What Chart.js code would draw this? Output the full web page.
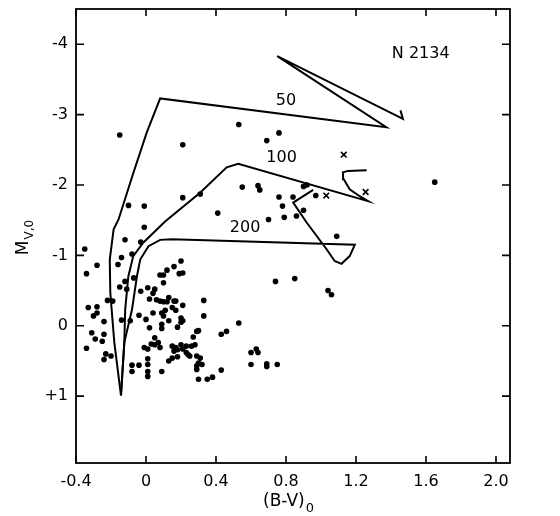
<!DOCTYPE html>
<html>
<head>
<meta charset="utf-8">
<script src="https://cdn.jsdelivr.net/npm/chart.js@4/dist/chart.umd.min.js"></script>
<style>
  body { margin: 0; background: #fff; }
  #wrap { width: 560px; height: 516px; }
</style>
</head>
<body>
<div id="wrap"><canvas id="cmd" width="560" height="516"></canvas></div>
<script>
// axis ticks
const xTicks = [-0.4, 0, 0.4, 0.8, 1.2, 1.6, 2.0];
const yTicks = [-4, -3, -2, -1, 0, 1];

// isochrones [ (B-V)0, Mv0 ]
const iso50 = [
  [-0.143, 0.99], [-0.181, 0.24], [-0.204, -0.47], [-0.207, -0.94], [-0.185, -1.37],
  [-0.157, -1.51], [-0.071, -2.18], [0.005, -2.75], [0.081, -3.23], [1.373, -2.82],
  [0.750, -3.83], [1.468, -2.94], [1.454, -3.06]
];
const iso100 = [
  [-0.143, 0.99], [-0.124, 0.24], [-0.119, -0.23], [-0.101, -0.70], [-0.073, -0.99],
  [-0.016, -1.18], [0.109, -1.48], [0.309, -1.89], [0.461, -2.25], [0.527, -2.30],
  [1.269, -1.77], [1.221, -1.84], [1.164, -1.94], [1.130, -2.08], [1.126, -2.18],
  [1.155, -2.20], [1.261, -2.21]
];
const iso200 = [
  [-0.143, 0.99], [-0.124, 0.24], [-0.080, -0.23], [-0.052, -0.70], [-0.033, -0.94],
  [0.014, -1.13], [0.081, -1.22], [0.149, -1.23], [1.193, -1.15], [1.164, -0.99],
  [1.117, -0.88], [1.078, -0.92], [1.031, -1.09], [0.917, -1.47], [0.841, -1.75],
  [0.955, -1.93]
];

// stars
const stars = [
  [-0.15,-2.71],[0.21,-2.57],[0.53,-2.86],[0.69,-2.63],[0.76,-2.74],
  [1.65,-2.04],[0.55,-1.97],[0.64,-1.99],[0.65,-1.93],[0.21,-1.82],[0.31,-1.87],
  [-0.10,-1.71],[-0.01,-1.70],[0.41,-1.60],[0.70,-1.51],[0.76,-1.83],[0.84,-1.83],
  [0.78,-1.70],[0.90,-1.98],[0.92,-2.00],[0.97,-1.85],[0.79,-1.54],[0.86,-1.56],
  [0.90,-1.64],[1.09,-1.27],
  [-0.01,-1.40],[-0.12,-1.22],[-0.03,-1.19],[-0.35,-1.09],[-0.28,-0.86],[-0.34,-0.74],
  [-0.14,-0.97],[-0.16,-0.87],[-0.08,-1.02],[-0.07,-0.68],[-0.12,-0.63],[-0.15,-0.55],
  [-0.11,-0.52],[-0.03,-0.49],
  [0.74,-0.63],[0.85,-0.67],[1.04,-0.50],[1.06,-0.44],[0.33,-0.36],
  [0.20,-0.92],[0.16,-0.84],[0.12,-0.79],[0.19,-0.74],[0.21,-0.75],[0.08,-0.72],[0.10,-0.72],
  [0.10,-0.61],[0.01,-0.54],[0.05,-0.52],[0.04,-0.46],[0.02,-0.38],[0.06,-0.37],[0.08,-0.35],
  [0.10,-0.34],[0.12,-0.34],[0.13,-0.40],[0.16,-0.35],[0.17,-0.35],[0.21,-0.29],[0.33,-0.14],
  [0.15,-0.26],[0.17,-0.22],[0.11,-0.22],[0.09,-0.18],[0.04,-0.18],[0.10,-0.14],[0.00,-0.09],
  [0.13,-0.07],[0.20,-0.11],[0.20,-0.05],[0.21,-0.07],[0.09,-0.02],[0.09,0.04],[0.02,0.03],
  [0.18,0.02],[0.30,0.07],[0.53,-0.04],[0.46,0.08],[0.43,0.12],[0.27,0.16],[0.05,0.17],
  [-0.01,0.31],[0.01,0.33],[0.03,0.26],[0.05,0.27],[0.07,0.24],[0.08,0.31],[0.15,0.29],
  [0.17,0.31],[0.18,0.34],[0.20,0.27],[0.21,0.33],[0.16,0.36],[0.23,0.29],[0.26,0.29],[0.28,0.27],
  [0.01,0.47],[0.13,0.50],[0.15,0.46],[0.18,0.44],[0.23,0.38],[0.25,0.43],[0.29,0.43],[0.31,0.46],
  [0.30,0.53],[0.29,0.57],[0.32,0.55],[0.09,0.65],[0.01,0.65],[0.01,0.72],[0.30,0.76],[0.35,0.76],
  [0.38,0.73],[0.43,0.63],
  [0.60,0.38],[0.63,0.33],[0.64,0.38],[0.60,0.55],[0.69,0.54],[0.69,0.58],[0.75,0.55],
  [0.29,0.62],[0.24,0.41],[0.29,0.08],
  [-0.22,-0.36],[-0.19,-0.35],[-0.33,-0.26],[-0.28,-0.27],[-0.28,-0.18],[-0.30,-0.14],
  [-0.24,-0.06],[-0.14,-0.08],[-0.09,-0.07],[-0.04,-0.15],[-0.31,0.10],[-0.24,0.12],
  [-0.29,0.19],[-0.25,0.22],[-0.34,0.32],[-0.23,0.40],[-0.20,0.43],[-0.24,0.48],
  [-0.08,0.56],[-0.08,0.65],[-0.04,0.56],[0.01,0.55]
];
const crosses = [[1.13,-2.43],[1.03,-1.85],[1.255,-1.90]];

// text labels on the plot
const isoLabels = [
  { text: '50', x: 0.80, y: -3.19 },
  { text: '100', x: 0.775, y: -2.39 },
  { text: '200', x: 0.566, y: -1.39 },
  { text: 'N 2134', x: 1.57, y: -3.86 }
];

const FONT = '"DejaVu Sans", sans-serif';

function toXY(arr) {
  return arr.map(function(p) { return { x: p[0], y: p[1] }; });
}

function isoSet(pts) {
  return {
    type: 'scatter',
    data: toXY(pts),
    showLine: true,
    borderColor: '#000',
    borderWidth: 2,
    pointRadius: 0,
    tension: 0,
    fill: false
  };
}

// frame, inward ticks, axis titles, curve labels
const decor = {
  id: 'decor',
  afterDraw: function(chart) {
    const ctx = chart.ctx;
    const a = chart.chartArea;
    const xs = chart.scales.x, ys = chart.scales.y;
    ctx.save();
    ctx.strokeStyle = '#000';
    ctx.lineWidth = 1.8;
    ctx.strokeRect(a.left, a.top, a.right - a.left, a.bottom - a.top);

    ctx.lineWidth = 1.6;
    ctx.beginPath();
    xTicks.forEach(function(v) {
      const px = xs.getPixelForValue(v);
      ctx.moveTo(px, a.bottom); ctx.lineTo(px, a.bottom - 7);
      ctx.moveTo(px, a.top); ctx.lineTo(px, a.top + 7);
    });
    yTicks.forEach(function(v) {
      const py = ys.getPixelForValue(v);
      ctx.moveTo(a.left, py); ctx.lineTo(a.left + 8, py);
      ctx.moveTo(a.right, py); ctx.lineTo(a.right - 8, py);
    });
    ctx.stroke();

    ctx.fillStyle = '#000';
    ctx.textAlign = 'center';
    ctx.textBaseline = 'middle';
    ctx.font = '16px ' + FONT;
    isoLabels.forEach(function(l) {
      ctx.fillText(l.text, xs.getPixelForValue(l.x), ys.getPixelForValue(l.y));
    });

    // x title (B-V)0
    ctx.textAlign = 'left';
    ctx.textBaseline = 'alphabetic';
    ctx.font = '17px ' + FONT;
    const main = '(B-V)';
    const w1 = ctx.measureText(main).width;
    ctx.font = '13px ' + FONT;
    const w2 = ctx.measureText('0').width;
    const cx = (a.left + a.right) / 2 - 5;
    const x0 = cx - (w1 + w2) / 2;
    ctx.font = '17px ' + FONT;
    ctx.fillText(main, x0, 506);
    ctx.font = '13px ' + FONT;
    ctx.fillText('0', x0 + w1 + 1, 512);

    // y title Mv,0
    ctx.save();
    ctx.translate(28, 238);
    ctx.rotate(-Math.PI / 2);
    ctx.font = '17px ' + FONT;
    const m = ctx.measureText('M').width;
    ctx.font = '12px ' + FONT;
    const s = ctx.measureText('V,0').width;
    ctx.font = '17px ' + FONT;
    ctx.fillText('M', -(m + s) / 2, 0);
    ctx.font = '12px ' + FONT;
    ctx.fillText('V,0', -(m + s) / 2 + m + 1, 5);
    ctx.restore();

    ctx.restore();
  }
};

const config = {
  type: 'scatter',
  data: {
    datasets: [
      isoSet(iso50),
      isoSet(iso100),
      isoSet(iso200),
      {
        data: toXY(stars),
        pointRadius: 2.8,
        pointBackgroundColor: '#000',
        pointBorderWidth: 0
      },
      {
        data: toXY(crosses),
        pointStyle: 'crossRot',
        pointRadius: 4,
        borderColor: '#000',
        pointBorderWidth: 1.6
      }
    ]
  },
  options: {
    responsive: false,
    animation: false,
    layout: { padding: { left: 0, right: 50, top: 9, bottom: 0 } },
    plugins: {
      legend: { display: false },
      tooltip: { enabled: false }
    },
    scales: {
      x: {
        type: 'linear',
        min: -0.4,
        max: 2.08,
        grid: { display: false, drawTicks: false },
        border: { display: false },
        afterBuildTicks: function(scale) {
          scale.ticks = xTicks.map(function(v) { return { value: v }; });
        },
        afterFit: function(scale) { scale.height = 53; },
        ticks: {
          padding: 9,
          color: '#000',
          font: { family: FONT, size: 16 },
          callback: function(v) { return v === 0 ? '0' : v.toFixed(1); }
        }
      },
      y: {
        type: 'linear',
        min: -4.5,
        max: 1.95,
        reverse: true,
        grid: { display: false, drawTicks: false },
        border: { display: false },
        afterBuildTicks: function(scale) {
          scale.ticks = yTicks.map(function(v) { return { value: v }; });
        },
        afterFit: function(scale) {
          scale.width = 76;
          scale.paddingTop = 0;
          scale.paddingBottom = 0;
        },
        ticks: {
          padding: 8,
          color: '#000',
          font: { family: FONT, size: 16 },
          callback: function(v) { return v > 0 ? '+' + v : String(v); }
        }
      }
    }
  },
  plugins: [decor]
};

new Chart(document.getElementById('cmd'), config);
</script>
</body>
</html>
